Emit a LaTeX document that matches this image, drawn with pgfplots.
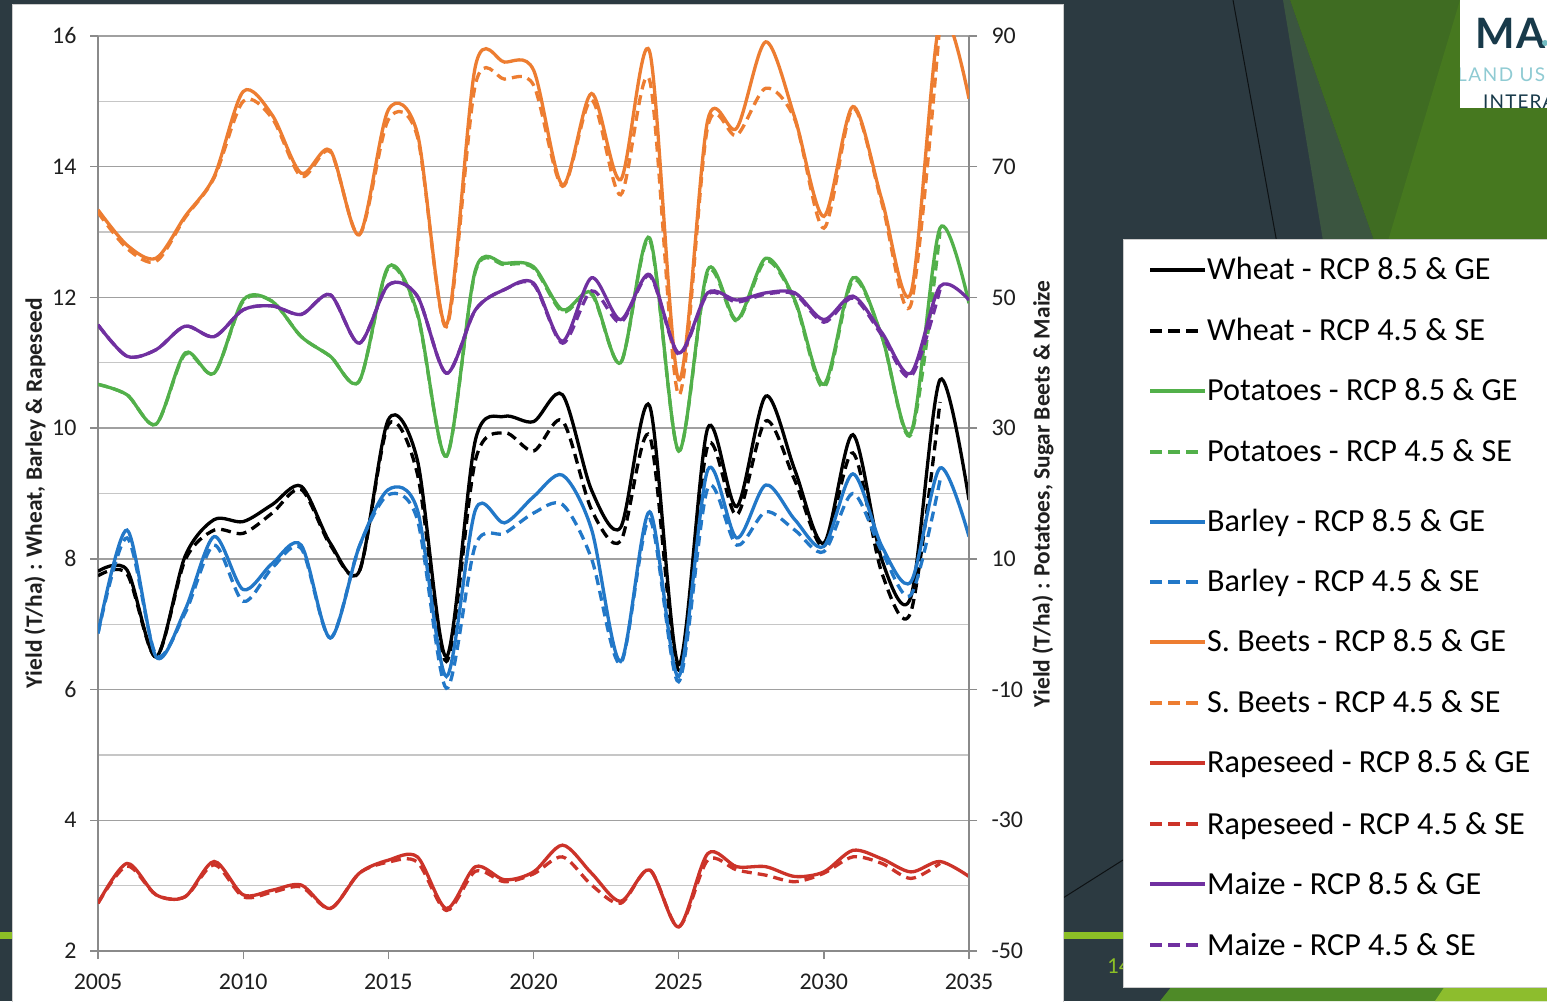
\documentclass[border=0pt]{standalone}
\usepackage{fontspec}
\setmainfont{Carlito}
\newfontfamily\logofont{Lato}
\usepackage{pgfplots}
\usepackage{pgfplotstable}
\pgfplotsset{compat=1.18}
\definecolor{bgdark}{HTML}{2C3A41}
\definecolor{olivegray}{HTML}{3B5540}
\definecolor{gdark}{HTML}{3F6C22}
\definecolor{glight}{HTML}{46781F}
\definecolor{lime}{HTML}{8CBF26}
\definecolor{gbot}{HTML}{4E8A27}
\definecolor{gbotl}{HTML}{8DBD2D}
\definecolor{logoteal}{HTML}{183A4A}
\definecolor{logolight}{HTML}{8FCBD3}
\definecolor{gridmaj}{HTML}{A0A0A0}
\definecolor{gridmin}{HTML}{C6C6C6}
\definecolor{axisgray}{HTML}{8A8A8A}
\definecolor{labelc}{HTML}{1F1F1F}
\definecolor{cwheat}{HTML}{000000}
\definecolor{cpot}{HTML}{52B04A}
\definecolor{cbar}{HTML}{2278C8}
\definecolor{cbeet}{HTML}{ED7D31}
\definecolor{crape}{HTML}{CC3329}
\definecolor{cmaize}{HTML}{7030A0}

\pgfplotstableread{
year wGE wSE bGE bSE rGE rSE pGE pSE sGE sSE mGE mSE
2005 7.81 7.74 6.86 6.86 2.73 2.73 36.7 36.7 63.4 63.0 45.8 45.8
2006 7.83 7.77 8.44 8.32 3.34 3.30 35.1 35.1 58.0 57.5 41.0 41.0
2007 6.50 6.50 6.50 6.53 2.86 2.86 30.6 30.6 56.0 55.5 42.0 42.0
2008 8.04 7.98 7.22 7.17 2.83 2.83 41.5 41.3 62.4 62.2 45.6 45.6
2009 8.60 8.44 8.34 8.21 3.37 3.32 38.4 38.4 68.5 68.3 44.0 44.0
2010 8.57 8.39 7.53 7.35 2.86 2.83 49.6 49.4 81.5 80.0 48.1 48.1
2011 8.83 8.70 7.93 7.86 2.93 2.90 49.4 49.4 77.9 77.4 48.7 48.7
2012 9.11 9.06 8.21 8.16 3.01 2.98 44.0 44.0 69.0 68.5 47.4 47.4
2013 8.24 8.21 6.79 6.79 2.65 2.65 41.0 41.0 72.5 72.3 50.4 50.4
2014 7.81 7.81 8.19 8.19 3.19 3.19 37.2 37.2 59.6 59.6 43.0 43.0
2015 10.13 10.05 9.06 8.98 3.39 3.36 54.7 54.5 78.7 77.2 51.9 51.9
2016 9.51 9.30 8.75 8.60 3.44 3.36 47.6 47.4 75.1 74.6 50.2 50.2
2017 6.50 6.43 6.20 6.02 2.65 2.62 25.7 25.7 45.8 45.5 38.4 38.4
2018 9.82 9.51 8.75 8.21 3.29 3.22 54.2 54.0 85.4 82.6 48.1 48.1
2019 10.18 9.93 8.55 8.39 3.09 3.06 55.2 55.0 86.0 83.4 51.2 51.2
2020 10.10 9.65 8.95 8.70 3.21 3.18 54.7 54.5 84.8 82.5 52.2 52.0
2021 10.51 10.11 9.28 8.83 3.62 3.44 48.1 47.8 67.2 67.0 43.3 43.0
2022 9.05 8.75 8.45 8.00 3.19 3.01 50.7 50.5 81.2 80.2 53.0 51.0
2023 8.48 8.27 6.43 6.40 2.76 2.73 40.0 40.0 68.0 65.7 46.6 46.2
2024 10.34 9.88 8.72 8.60 3.24 3.24 59.1 58.8 87.6 83.2 53.5 53.3
2025 6.38 6.30 6.20 6.12 2.37 2.37 26.5 26.5 37.4 35.1 41.5 41.3
2026 10.00 9.73 9.36 9.08 3.49 3.39 54.2 53.8 77.1 76.1 50.7 50.5
2027 8.80 8.67 8.32 8.21 3.29 3.24 46.6 46.4 75.9 74.8 49.6 49.3
2028 10.49 10.11 9.13 8.72 3.29 3.16 56.0 55.6 89.1 82.0 50.7 50.5
2029 9.36 9.20 8.60 8.44 3.14 3.06 49.6 49.4 77.5 77.2 50.7 50.5
2030 8.24 8.19 8.19 8.11 3.21 3.19 36.7 36.2 62.4 60.6 46.6 46.2
2031 9.90 9.62 9.30 9.00 3.54 3.44 53.0 52.6 79.2 78.9 50.2 49.9
2032 7.98 7.78 8.19 8.11 3.41 3.34 44.0 44.0 64.9 64.4 44.6 44.2
2033 7.42 7.19 7.65 7.45 3.21 3.11 29.3 29.0 50.7 48.9 38.4 37.9
2034 10.74 10.40 9.39 9.20 3.37 3.34 60.6 60.0 92.5 92.0 51.7 51.2
2035 8.90 nan 8.34 nan 3.14 nan 49.1 nan 80.4 nan 49.6 nan
}\data

\pgfplotsset{
  common/.style={
    at={(98bp,50bp)}, anchor=south west, scale only axis,
    width=871bp, height=915bp,
    xmin=2005, xmax=2035,
    tick align=outside, major tick length=8bp, minor tick length=0pt,
    tick style={axisgray, line width=1.3bp},
    axis line style={axisgray, line width=1.3bp, -},
    every outer x axis line/.append style={-},
    every outer y axis line/.append style={-},
    ticklabel style={font=\fontsize{24}{28}\selectfont, text=labelc},
    /pgf/number format/assume math mode=true,
    clip=true,
  },
  sol/.style={line width=3.3bp, smooth, tension=0.5, no markers, solid},
  das/.style={line width=3.3bp, smooth, tension=0.5, no markers, dash pattern=on 10bp off 6bp},
}

\begin{document}
\begin{tikzpicture}[x=1bp,y=1bp]
\useasboundingbox (0,0) rectangle (1547,1001);
\fill[bgdark] (0,0) rectangle (1547,1001);
% top right slide decoration
\fill[olivegray] (1283,1001) -- (1290,1001) -- (1395,700) -- (1333,700) -- cycle;
\fill[gdark] (1290,1001) -- (1547,1001) -- (1547,700) -- (1395,700) -- cycle;
\fill[glight] (1460,1001) -- (1547,1001) -- (1547,700) -- (1370,700) -- cycle;
\draw[black!70!bgdark, line width=1bp] (1233,1001) -- (1280,741);
% logo
\fill[white] (1460,1001) rectangle (1547,893);
\begin{scope}
\clip (1460,1001) rectangle (1547,893);
\node[anchor=base west, inner sep=0pt, text=logoteal, font=\logofont\bfseries\fontsize{42}{46}\selectfont] at (1475,952) {M};
\node[anchor=base west, inner sep=0pt, text=logoteal, font=\logofont\bfseries\fontsize{42}{46}\selectfont] at (1516,952) {A};
\fill[logolight!80!teal] (1545,958) circle (3);
\node[anchor=base west, inner sep=0pt, text=logolight, font=\logofont\fontsize{19}{22}\selectfont\addfontfeatures{LetterSpace=8}] at (1457,919) {LAND USE};
\node[anchor=base west, inner sep=0pt, text=logoteal, font=\logofont\fontsize{19}{22}\selectfont\addfontfeatures{LetterSpace=6}] at (1483,892) {INTERACTIONS};
\end{scope}
% bottom decorations
\fill[lime] (0,62) rectangle (12,69);
\fill[lime] (1063,62) rectangle (1123,69);
\node[anchor=base west, inner sep=0pt, text=lime, font=\fontsize{23}{26}\selectfont] at (1107,28) {14};
\draw[black!70!bgdark, line width=1bp] (1063,103) -- (1123,141);
\fill[gbot] (1160,0) -- (1172,15) -- (1547,15) -- (1547,0) -- cycle;
\fill[gbotl] (1435,0) -- (1445,15) -- (1547,15) -- (1547,0) -- cycle;
% chart panel
\fill[white, draw=gray!40, line width=1bp] (12,-2) rectangle (1063,996);
% legend panel
\fill[white, draw=gray!40, line width=1bp] (1123,14) rectangle (1560,761);

\begin{axis}[common,
  ymin=2, ymax=16,
  xtick={2005,2010,...,2035}, ytick={2,4,...,16}, minor ytick={3,5,...,15},
  axis x line*=bottom, axis y line*=left,
  ymajorgrids, yminorgrids,
  major grid style={gridmaj, line width=1.3bp},
  minor grid style={gridmin, line width=1.3bp},
  xticklabel style={/pgf/number format/1000 sep={}, yshift=-11bp},
  yticklabel style={xshift=-10bp},
]
\addplot[sol, cwheat] table[x=year, y=wGE]{\data};
\addplot[das, cwheat] table[x=year, y=wSE]{\data};
\addplot[sol, cbar] table[x=year, y=bGE]{\data};
\addplot[das, cbar] table[x=year, y=bSE]{\data};
\addplot[sol, crape] table[x=year, y=rGE]{\data};
\addplot[das, crape] table[x=year, y=rSE]{\data};
\end{axis}

\begin{axis}[common,
  ymin=-50, ymax=90,
  ytick={-50,-30,...,90},
  axis x line=none, axis y line*=right,
  yticklabel style={xshift=11bp},
]
\addplot[sol, cpot] table[x=year, y=pGE]{\data};
\addplot[das, cpot] table[x=year, y=pSE]{\data};
\addplot[sol, cbeet] table[x=year, y=sGE]{\data};
\addplot[das, cbeet] table[x=year, y=sSE]{\data};
\addplot[sol, cmaize] table[x=year, y=mGE]{\data};
\addplot[das, cmaize] table[x=year, y=mSE]{\data};
\end{axis}

% axis titles
\node[rotate=90, text=labelc, font=\bfseries\fontsize{23.5}{26}\selectfont] at (35,508) {Yield (T/ha) : Wheat, Barley \& Rapeseed};
\node[rotate=90, text=labelc, font=\bfseries\fontsize{23.5}{26}\selectfont] at (1043,507) {Yield (T/ha) : Potatoes, Sugar Beets \& Maize};

% legend entries
\foreach \yc/\col/\dsh/\txt in {
  270/cwheat/0/{Wheat - RCP 8.5 \& GE},
  331/cwheat/1/{Wheat - RCP 4.5 \& SE},
  391/cpot/0/{Potatoes - RCP 8.5 \& GE},
  452/cpot/1/{Potatoes - RCP 4.5 \& SE},
  522/cbar/0/{Barley - RCP 8.5 \& GE},
  582/cbar/1/{Barley - RCP 4.5 \& SE},
  642/cbeet/0/{S. Beets - RCP 8.5 \& GE},
  703/cbeet/1/{S. Beets - RCP 4.5 \& SE},
  763/crape/0/{Rapeseed - RCP 8.5 \& GE},
  824/crape/1/{Rapeseed - RCP 4.5 \& SE},
  884/cmaize/0/{Maize - RCP 8.5 \& GE},
  945/cmaize/1/{Maize - RCP 4.5 \& SE}}{
  \pgfmathsetmacro{\yt}{1001-\yc}
  \ifnum\dsh=0
    \draw[\col, line width=3.5bp] (1150,\yt) -- (1205,\yt);
  \else
    \draw[\col, line width=3.5bp, dash pattern=on 12bp off 6bp] (1150,\yt) -- (1198,\yt);
  \fi
  \node[anchor=base west, inner sep=0pt, text=black, font=\fontsize{32.3}{35}\selectfont] at (1207,\yt-10) {\txt};
}
\end{tikzpicture}
\end{document}
